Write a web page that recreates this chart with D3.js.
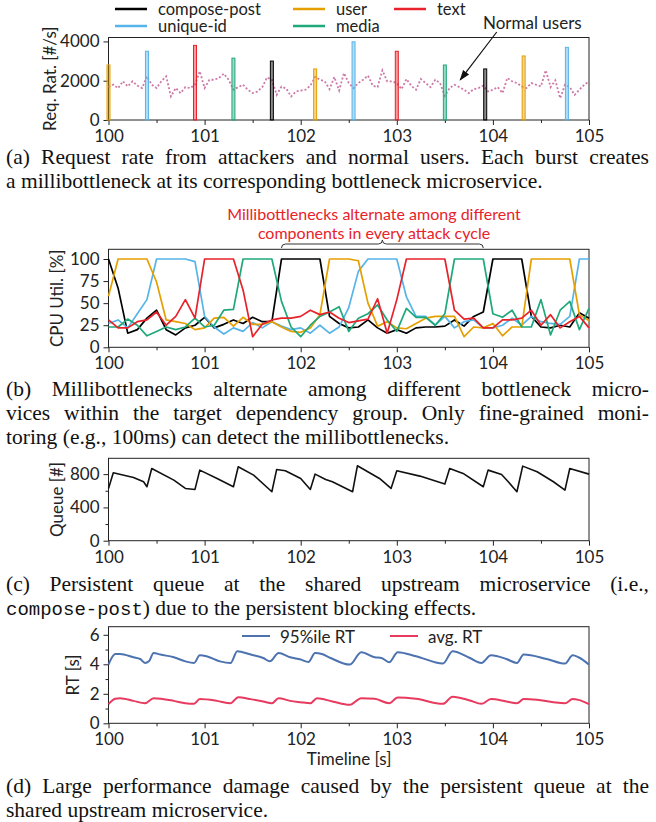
<!DOCTYPE html>
<html>
<head>
<meta charset="utf-8">
<script src="https://cdn.jsdelivr.net/npm/d3@7"></script>
<style>
body { margin: 0; background: #fff; }
svg text { font-family: Lato, "Open Sans", sans-serif; fill: #222; }
svg text.cap { font-family: "Liberation Serif", "Times New Roman", serif; font-size: 21.5px; fill: #111; }
</style>
</head>
<body>
<div id="fig"></div>
<script>
// shared time axis
var timeTicks = [100, 101, 102, 103, 104, 105];
var timeMinor = [100.5, 101.5, 102.5, 103.5, 104.5];

var services = ["compose-post", "unique-id", "user", "media", "text"];
var serviceColor = ["#000000", "#56B4E9", "#E69F00", "#1fa97b", "#e8222a"];

// (a) attack bursts
var burstTime = [100.0, 100.4, 100.9, 101.3, 101.7, 102.15, 102.55, 103.0, 103.5, 103.92, 104.32, 104.77];
var burstRate = [2800, 3500, 3800, 3150, 3000, 2600, 3980, 3500, 2800, 2600, 3260, 3700];
var burstService = ["user", "unique-id", "text", "media", "compose-post", "user",
                    "unique-id", "text", "media", "compose-post", "user", "unique-id"];

// (a) normal users, one sample every 50ms from 100s
var normalStep = 0.05;
var normalRate = [1680, 1800, 1620, 1970, 1710, 1970, 1750, 1625, 2220, 1795,
                  1625, 1970, 2220, 1200, 1625, 1370, 1675, 1625, 1795, 2480,
                  1625, 2050, 2050, 2140, 2360, 2050, 1540, 1675, 1795, 1540,
                  1370, 1450, 1675, 2170, 2050, 1280, 1700, 1600, 1200, 1450,
                  1500, 1540, 1745, 2190, 2050, 1970, 1570, 2190, 1500, 2390,
                  1880, 1625, 1880, 2050, 2260, 1745, 1675, 2530, 1970, 1970,
                  1880, 1570, 2085, 1745, 1540, 2085, 1880, 1675, 2050, 1880,
                  1230, 1625, 1795, 1675, 1540, 1370, 1570, 1625, 1745, 1450,
                  1540, 1675, 1370, 2140, 1970, 1880, 1710, 1625, 1880, 1795,
                  1710, 2530, 1675, 2020, 1110, 1795, 1675, 1280, 1540, 1795,
                  1970];

// (b) CPU util, one sample every 100ms from 100s
var cpuStep = 0.1;
var cpuCompose = [100, 67, 16, 20, 33, 42, 20, 14, 22, 25,
                  34, 22, 26, 31, 27, 34, 29, 29, 100, 100,
                  100, 100, 100, 35, 27, 22, 23, 31, 22, 16,
                  20, 16, 22, 23, 23, 24, 31, 24, 35, 40,
                  100, 100, 100, 100, 35, 23, 22, 25, 23, 39, 33];
var cpuUniqueId = [27, 31, 22, 38, 54, 100, 100, 100, 100, 97,
                   35, 23, 15, 22, 18, 28, 22, 29, 24, 20,
                   22, 16, 25, 16, 23, 45, 86, 100, 100, 100,
                   100, 57, 35, 35, 25, 35, 22, 29, 31, 22,
                   22, 25, 33, 25, 35, 29, 27, 26, 35, 100, 100];
var cpuUser = [58, 100, 100, 100, 100, 74, 31, 29, 27, 20,
               22, 33, 34, 24, 34, 26, 26, 29, 23, 18,
               17, 22, 37, 100, 100, 100, 98, 50, 24, 29,
               22, 21, 27, 33, 35, 35, 35, 12, 23, 22,
               27, 13, 23, 23, 100, 100, 100, 100, 100, 37, 30];
var cpuMedia = [23, 23, 32, 25, 13, 18, 23, 20, 23, 33,
                23, 25, 42, 43, 100, 100, 100, 100, 52, 23,
                12, 25, 35, 40, 46, 18, 33, 38, 48, 31,
                18, 44, 34, 34, 25, 38, 100, 100, 100, 100,
                38, 34, 42, 23, 23, 54, 14, 42, 52, 20, 44];
var cpuText = [31, 22, 22, 29, 31, 40, 25, 35, 54, 33,
               100, 100, 100, 100, 65, 12, 26, 31, 33, 33,
               35, 42, 37, 40, 33, 28, 30, 32, 55, 16,
               54, 100, 100, 100, 100, 100, 42, 32, 33, 22,
               22, 31, 31, 33, 42, 25, 37, 22, 29, 35, 22];
var cpuSeries = [cpuCompose, cpuUniqueId, cpuUser, cpuMedia, cpuText];

// (c) queue length at compose-post
var queueTime = [100.0, 100.05, 100.26, 100.365, 100.40, 100.45, 100.68, 100.80, 100.90, 100.95,
                 101.13, 101.30, 101.35, 101.51, 101.70, 101.75, 101.84, 102.0, 102.10, 102.15,
                 102.26, 102.33, 102.54, 102.59, 102.82, 102.94, 103.0, 103.24, 103.50, 103.55,
                 103.69, 103.90, 103.95, 104.09, 104.16, 104.25, 104.31, 104.46, 104.63, 104.75,
                 104.80, 105.0];
var queueLen = [628, 816, 760, 708, 648, 868, 728, 628, 616, 848,
                748, 648, 888, 788, 588, 856, 840, 748, 616, 800,
                736, 708, 588, 900, 748, 628, 840, 776, 680, 868,
                808, 648, 848, 796, 708, 588, 896, 828, 708, 608,
                868, 800];

// (d) response time
var p95Time = [100.0, 100.07, 100.12, 100.26, 100.33, 100.38, 100.42, 100.47, 100.54, 100.68,
               100.80, 100.89, 100.95, 101.02, 101.16, 101.27, 101.34, 101.48, 101.61, 101.68,
               101.77, 101.89, 102.0, 102.08, 102.15, 102.22, 102.31, 102.51, 102.63, 102.77,
               102.84, 102.92, 103.01, 103.20, 103.48, 103.58, 103.76, 103.88, 103.98, 104.14,
               104.25, 104.32, 104.56, 104.75, 104.83, 104.89, 105.0];
var p95RT = [3.98, 4.70, 4.70, 4.48, 4.36, 4.09, 4.20, 4.77, 4.66, 4.48,
             4.20, 4.09, 4.61, 4.55, 4.20, 4.09, 4.89, 4.66, 4.43, 4.20,
             4.77, 4.48, 4.32, 4.16, 4.77, 4.70, 4.43, 3.98, 4.82, 4.48,
             4.43, 4.14, 4.82, 4.55, 4.05, 4.89, 4.43, 4.09, 4.61, 4.36,
             4.09, 4.66, 4.36, 4.05, 4.61, 4.48, 3.98];
var avgTime = [100.0, 100.07, 100.12, 100.26, 100.38, 100.47, 100.68, 100.80, 100.89, 100.95,
               101.13, 101.27, 101.35, 101.48, 101.61, 101.70, 101.77, 101.89, 102.0, 102.10,
               102.17, 102.33, 102.51, 102.63, 102.77, 102.92, 103.01, 103.20, 103.48, 103.58,
               103.76, 103.88, 103.98, 104.14, 104.25, 104.32, 104.46, 104.63, 104.75, 104.83,
               104.89, 105.0];
var avgRT = [1.30, 1.66, 1.70, 1.52, 1.36, 1.70, 1.52, 1.36, 1.32, 1.64,
             1.52, 1.36, 1.77, 1.64, 1.48, 1.36, 1.70, 1.52, 1.43, 1.36,
             1.70, 1.48, 1.25, 1.70, 1.66, 1.36, 1.75, 1.66, 1.32, 1.80,
             1.55, 1.32, 1.64, 1.48, 1.36, 1.64, 1.59, 1.43, 1.36, 1.64,
             1.59, 1.30];

var captions = [
  { y: 164, lines: ["(a) Request rate from attackers and normal users. Each burst creates",
                    "a millibottleneck at its corresponding bottleneck microservice."] },
  { y: 396, lines: ["(b) Millibottlenecks alternate among different bottleneck micro-",
                    "vices within the target dependency group. Only fine-grained moni-",
                    "toring (e.g., 100ms) can detect the millibottlenecks."] },
  { y: 591, lines: ["(c) Persistent queue at the shared upstream microservice (i.e.,",
                    "|compose-post|) due to the persistent blocking effects."] },
  { y: 793, lines: ["(d) Large performance damage caused by the persistent queue at the",
                    "shared upstream microservice."] }
];

var W = 656, H = 822;
var svg = d3.select("#fig").append("svg").attr("width", W).attr("height", H);
var x = d3.scaleLinear().domain([100, 105]).range([108.5, 589]);
var colorOf = d3.scaleOrdinal().domain(services).range(serviceColor);

function frame(top, bottom, domain, ticks, minor, label, lx) {
  var y = d3.scaleLinear().domain(domain).range([bottom, top]);
  var g = svg.append("g");
  g.append("g").attr("transform", "translate(0," + bottom + ")")
    .call(d3.axisBottom(x).tickValues(timeTicks).tickSize(5).tickPadding(5).tickFormat(d3.format("d")));
  g.append("g").attr("transform", "translate(0," + bottom + ")")
    .call(d3.axisBottom(x).tickValues(timeMinor).tickSize(3).tickFormat(""));
  g.append("g").attr("transform", "translate(" + x.range()[0] + ",0)")
    .call(d3.axisLeft(y).tickValues(ticks).tickSize(5).tickPadding(4).tickFormat(d3.format("d")));
  if (minor.length) {
    g.append("g").attr("transform", "translate(" + x.range()[0] + ",0)")
      .call(d3.axisLeft(y).tickValues(minor).tickSize(3).tickFormat(""));
  }
  g.selectAll(".domain").remove();
  g.selectAll(".tick line").attr("stroke", "#222");
  g.selectAll(".tick text").attr("font-size", 17).attr("font-family", null).attr("fill", "#222");
  g.append("rect")
    .attr("x", x.range()[0]).attr("y", top)
    .attr("width", x.range()[1] - x.range()[0]).attr("height", bottom - top)
    .attr("fill", "none").attr("stroke", "#222").attr("stroke-width", 1);
  g.append("text")
    .attr("transform", "translate(" + lx + "," + (top + bottom) / 2 + ") rotate(-90)")
    .attr("text-anchor", "middle").attr("dominant-baseline", "central")
    .attr("font-size", 17).text(label);
  return y;
}

// ---- (a) request rate
var yA = frame(37.5, 120, [0, 4200], [0, 2000, 4000], [], "Req. Rat. [#/s]", 49);

svg.append("path")
  .datum(normalRate)
  .attr("fill", "none").attr("stroke", "#CC79A7").attr("stroke-width", 1.8)
  .attr("stroke-dasharray", "2,2")
  .attr("d", d3.line().x(function (d, i) { return x(100 + i * normalStep); }).y(function (d) { return yA(d); }));

svg.selectAll(".burst")
  .data(burstTime).enter().append("rect")
  .attr("class", "burst")
  .attr("x", function (d) { return x(d) - 1.5; })
  .attr("width", 3)
  .attr("y", function (d, i) { return yA(burstRate[i]); })
  .attr("height", function (d, i) { return yA(0) - yA(burstRate[i]); })
  .attr("fill", function (d, i) { return colorOf(burstService[i]); })
  .attr("fill-opacity", 0.45)
  .attr("stroke", function (d, i) { return colorOf(burstService[i]); })
  .attr("stroke-width", 1);

var legendA = [["compose-post", 115, 9], ["user", 293, 9], ["text", 394, 9],
               ["unique-id", 115, 26], ["media", 293, 26]];
legendA.forEach(function (l) {
  svg.append("line").attr("x1", l[1]).attr("x2", l[1] + 32).attr("y1", l[2]).attr("y2", l[2])
    .attr("stroke", colorOf(l[0])).attr("stroke-width", 2.5);
  svg.append("text").attr("x", l[1] + 43).attr("y", l[2]).attr("dominant-baseline", "central")
    .attr("font-size", 16.5).text(l[0]);
});

svg.append("defs").append("marker")
  .attr("id", "arrow").attr("viewBox", "0 0 10 10").attr("refX", 9).attr("refY", 5)
  .attr("markerWidth", 9).attr("markerHeight", 9).attr("orient", "auto")
  .append("path").attr("d", "M0,1.5L10,5L0,8.5Z").attr("fill", "#111");
svg.append("line")
  .attr("x1", x(104.04)).attr("y1", yA(4480))
  .attr("x2", x(103.66)).attr("y2", yA(2040))
  .attr("stroke", "#111").attr("stroke-width", 1.2).attr("marker-end", "url(#arrow)");
svg.append("text").attr("x", 483).attr("y", 22).attr("dominant-baseline", "central")
  .attr("font-size", 17).text("Normal users");

// ---- (b) CPU utilization
var yB = frame(249.3, 347.3, [0, 111], [0, 25, 50, 75, 100], [], "CPU Util. [%]", 56);
var cpuLine = d3.line()
  .x(function (d, i) { return x(100 + i * cpuStep); })
  .y(function (d) { return yB(d); });
svg.selectAll(".cpu")
  .data(cpuSeries).enter().append("path")
  .attr("class", "cpu")
  .attr("fill", "none")
  .attr("stroke", function (d, i) { return serviceColor[i]; })
  .attr("stroke-width", 1.7)
  .attr("stroke-linejoin", "round")
  .attr("d", cpuLine);

var bx0 = x(101.8), bx1 = x(103.9), bxm = (bx0 + bx1) / 2, by = 244;
svg.append("path")
  .attr("d", "M" + bx0 + "," + (by + 4) + " Q" + bx0 + "," + by + " " + (bx0 + 4) + "," + by +
             " L" + (bxm - 4) + "," + by + " Q" + bxm + "," + by + " " + bxm + "," + (by - 4) +
             " Q" + bxm + "," + by + " " + (bxm + 4) + "," + by +
             " L" + (bx1 - 4) + "," + by + " Q" + bx1 + "," + by + " " + bx1 + "," + (by + 4))
  .attr("fill", "none").attr("stroke", "#333").attr("stroke-width", 1);
svg.append("text").attr("x", 374).attr("y", 213).attr("text-anchor", "middle")
  .attr("dominant-baseline", "central").attr("font-size", 16).style("fill", "#e8222a")
  .text("Millibottlenecks alternate among different");
svg.append("text").attr("x", 374).attr("y", 232).attr("text-anchor", "middle")
  .attr("dominant-baseline", "central").attr("font-size", 16).style("fill", "#e8222a")
  .text("components in every attack cycle");

// ---- (c) queue
var yC = frame(458.3, 540.7, [0, 990], [0, 400, 800], [200, 600], "Queue [#]", 56);
svg.append("path")
  .datum(queueLen)
  .attr("fill", "none").attr("stroke", "#111").attr("stroke-width", 1.6)
  .attr("stroke-linejoin", "round")
  .attr("d", d3.line().x(function (d, i) { return x(queueTime[i]); }).y(function (d) { return yC(d); }));

// ---- (d) response time
var yD = frame(626.7, 723.3, [0, 6.55], [0, 2, 4, 6], [1, 3, 5], "RT [s]", 72);
var rtLines = [[p95Time, p95RT, "#4C72B0"], [avgTime, avgRT, "#e8395e"]];
rtLines.forEach(function (s) {
  svg.append("path")
    .datum(s[1])
    .attr("fill", "none").attr("stroke", s[2]).attr("stroke-width", 2)
    .attr("d", d3.line().curve(d3.curveMonotoneX)
      .x(function (d, i) { return x(s[0][i]); }).y(function (d) { return yD(d); }));
});
var legendD = [["95%ile RT", 242, "#4C72B0"], ["avg. RT", 390, "#e8395e"]];
legendD.forEach(function (l) {
  svg.append("line").attr("x1", l[1]).attr("x2", l[1] + 28).attr("y1", 636).attr("y2", 636)
    .attr("stroke", l[2]).attr("stroke-width", 2);
  svg.append("text").attr("x", l[1] + 38).attr("y", 636).attr("dominant-baseline", "central")
    .attr("font-size", 17).text(l[0]);
});
svg.append("text").attr("x", 349).attr("y", 758).attr("text-anchor", "middle")
  .attr("dominant-baseline", "central").attr("font-size", 17).text("Timeline [s]");

// ---- captions (all but the last line of each are justified)
var capLeft = 6, capRight = 649, capLead = 24;
captions.forEach(function (c) {
  c.lines.forEach(function (line, k) {
    var t = svg.append("text").attr("class", "cap").attr("x", capLeft).attr("y", c.y + k * capLead);
    line.split("|").forEach(function (part, j) {
      var ts = t.append("tspan").text(part);
      if (j % 2 === 1) ts.style("font-family", "'Liberation Mono', 'Courier New', monospace").style("font-size", "19px");
    });
    if (k < c.lines.length - 1) {
      var w = t.node().getComputedTextLength();
      var gaps = line.split(" ").length - 1;
      t.style("word-spacing", ((capRight - capLeft - w) / gaps) + "px");
    }
  });
});
</script>
</body>
</html>
